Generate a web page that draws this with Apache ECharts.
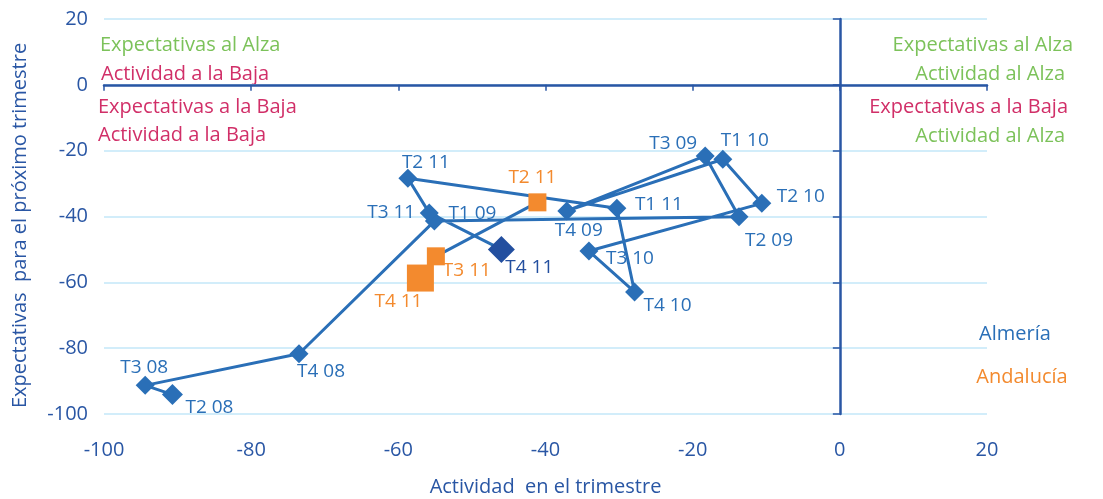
<!DOCTYPE html>
<html>
<head>
<meta charset="utf-8">
<script src="https://cdn.jsdelivr.net/npm/echarts@6/dist/echarts.min.js"></script>
<style>
  html, body { margin: 0; padding: 0; background: #ffffff; }
  #chart { width: 1103px; height: 499px; }
</style>
</head>
<body>
<div id="chart"></div>
<script>
// Almería: quarterly path (activity in the quarter vs expectations for next quarter)
const quartersAlmeria = ['T2 08', 'T3 08', 'T4 08', 'T1 09', 'T2 09', 'T3 09', 'T4 09',
  'T1 10', 'T2 10', 'T3 10', 'T4 10', 'T1 11', 'T2 11', 'T3 11', 'T4 11'];
const actividadAlmeria = [-90.7, -94.4, -73.5, -55.1, -13.7, -18.3, -37.1,
  -15.9, -10.6, -34.1, -27.9, -30.3, -58.7, -55.8, -46.0];
const expectativasAlmeria = [-94.1, -91.3, -81.7, -41.4, -40.1, -21.6, -38.3,
  -22.6, -36.0, -50.5, -62.9, -37.5, -28.4, -38.9, -50.0];

// Andalucía: last three quarters
const quartersAndalucia = ['T2 11', 'T3 11', 'T4 11'];
const actividadAndalucia = [-41.1, -54.9, -57.0];
const expectativasAndalucia = [-35.7, -52.1, -58.7];

// Axis ticks
const axisMin = -100;
const axisMax = 20;
const axisStep = 20;

// Label placement around each marker (pixels from marker centre)
const labelOffsetsAlmeria = [[37, 13], [-1, -18], [22, 18], [38, -8], [30, 24], [-32, -12], [12, 20],
  [22, -19], [39, -7], [41, 8], [33, 14], [42, -4], [18, -16], [-38, 0], [28, 18]];
const labelOffsetsAndalucia = [[-5, -25], [31, 14], [-22, 24]];

const BLUE = '#2a6fb7';
const DARK_BLUE = '#234f9f';
const AXIS_BLUE = '#2956a4';
const ORANGE = '#f38a2e';
const GREEN = '#7cc25a';
const MAGENTA = '#d12f68';
const GRID_BLUE = '#c3e7f8';
const FONT = '"Open Sans", sans-serif';

const lastA = quartersAlmeria.length - 1;
const almeriaData = quartersAlmeria.map((q, i) => ({
  value: [actividadAlmeria[i], expectativasAlmeria[i]],
  name: q,
  symbolSize: i === lastA ? 27 : (i === 0 ? 21 : 19),
  itemStyle: { color: i === lastA ? DARK_BLUE : BLUE },
  label: { offset: labelOffsetsAlmeria[i], color: i === lastA ? DARK_BLUE : BLUE }
}));

const lastB = quartersAndalucia.length - 1;
const andaluciaData = quartersAndalucia.map((q, i) => ({
  value: [actividadAndalucia[i], expectativasAndalucia[i]],
  name: q,
  symbolSize: i === lastB ? 27 : 18,
  label: { offset: labelOffsetsAndalucia[i] }
}));

const chart = echarts.init(document.getElementById('chart'), null, { renderer: 'canvas' });

const quadrantText = (x, y, text, color, align) => ({
  type: 'text', x: x, y: y, silent: true,
  style: { text: text, fill: color, font: '20px ' + FONT, textAlign: align, textVerticalAlign: 'middle' }
});

chart.setOption({
  animation: false,
  backgroundColor: '#ffffff',
  grid: { left: 104, right: 116, top: 19, bottom: 85, outerBoundsMode: 'none', containLabel: false },
  xAxis: [
    {
      type: 'value', min: axisMin, max: axisMax, interval: axisStep, position: 'bottom',
      axisLine: { show: false, onZero: false },
      axisTick: { show: false },
      splitLine: { show: false },
      axisLabel: { margin: 26, color: AXIS_BLUE, fontSize: 20, fontFamily: FONT },
      name: 'Actividad  en el trimestre', nameLocation: 'middle', nameGap: 63,
      nameTextStyle: { color: AXIS_BLUE, fontSize: 20, fontFamily: FONT }
    },
    {
      type: 'value', min: axisMin, max: axisMax, interval: axisStep, position: 'bottom',
      axisLine: { show: true, onZero: true, lineStyle: { color: AXIS_BLUE, width: 2.5 } },
      axisTick: { show: true, length: 6, lineStyle: { color: AXIS_BLUE, width: 1.5 } },
      axisLabel: { show: false },
      splitLine: { show: false }
    }
  ],
  yAxis: [
    {
      type: 'value', min: axisMin, max: axisMax, interval: axisStep, position: 'left',
      axisLine: { show: false, onZero: false },
      axisTick: { show: false },
      splitLine: { show: true, lineStyle: { color: GRID_BLUE, width: 1.5 } },
      axisLabel: { margin: 16, color: AXIS_BLUE, fontSize: 20, fontFamily: FONT },
      name: 'Expectativas  para el próximo trimestre', nameLocation: 'middle', nameGap: 74,
      nameTextStyle: { color: AXIS_BLUE, fontSize: 20, fontFamily: FONT, padding: [0, 18, 0, 0] }
    },
    {
      type: 'value', min: axisMin, max: axisMax, interval: axisStep, position: 'left',
      axisLine: { show: true, onZero: true, lineStyle: { color: AXIS_BLUE, width: 2.5 } },
      axisTick: { show: true, length: 7, lineStyle: { color: AXIS_BLUE, width: 1.5 } },
      axisLabel: { show: false },
      splitLine: { show: false }
    }
  ],
  series: [
    {
      name: 'Almería', type: 'line', xAxisIndex: 0, yAxisIndex: 0,
      symbol: 'diamond', showAllSymbol: true,
      lineStyle: { color: BLUE, width: 3 },
      itemStyle: { color: BLUE },
      label: {
        show: true, position: 'inside', fontSize: 19, fontFamily: FONT, color: BLUE,
        formatter: p => p.name
      },
      emphasis: { disabled: true },
      data: almeriaData
    },
    {
      name: 'Andalucía', type: 'line', xAxisIndex: 0, yAxisIndex: 0,
      symbol: 'rect', showAllSymbol: true,
      lineStyle: { color: BLUE, width: 3 },
      itemStyle: { color: ORANGE },
      label: {
        show: true, position: 'inside', fontSize: 19, fontFamily: FONT, color: ORANGE,
        formatter: p => p.name
      },
      emphasis: { disabled: true },
      data: andaluciaData
    }
  ],
  graphic: [
    quadrantText(100, 45, 'Expectativas al Alza', GREEN, 'left'),
    quadrantText(101, 74, 'Actividad a la Baja', MAGENTA, 'left'),
    quadrantText(98, 107, 'Expectativas a la Baja', MAGENTA, 'left'),
    quadrantText(98, 135, 'Actividad a la Baja', MAGENTA, 'left'),
    quadrantText(1073, 45, 'Expectativas al Alza', GREEN, 'right'),
    quadrantText(1065, 74, 'Actividad al Alza', GREEN, 'right'),
    quadrantText(1068, 107, 'Expectativas a la Baja', MAGENTA, 'right'),
    quadrantText(1065, 136, 'Actividad al Alza', GREEN, 'right'),
    quadrantText(1015, 334, 'Almería', BLUE, 'center'),
    quadrantText(1022, 377, 'Andalucía', ORANGE, 'center')
  ]
});
</script>
</body>
</html>
